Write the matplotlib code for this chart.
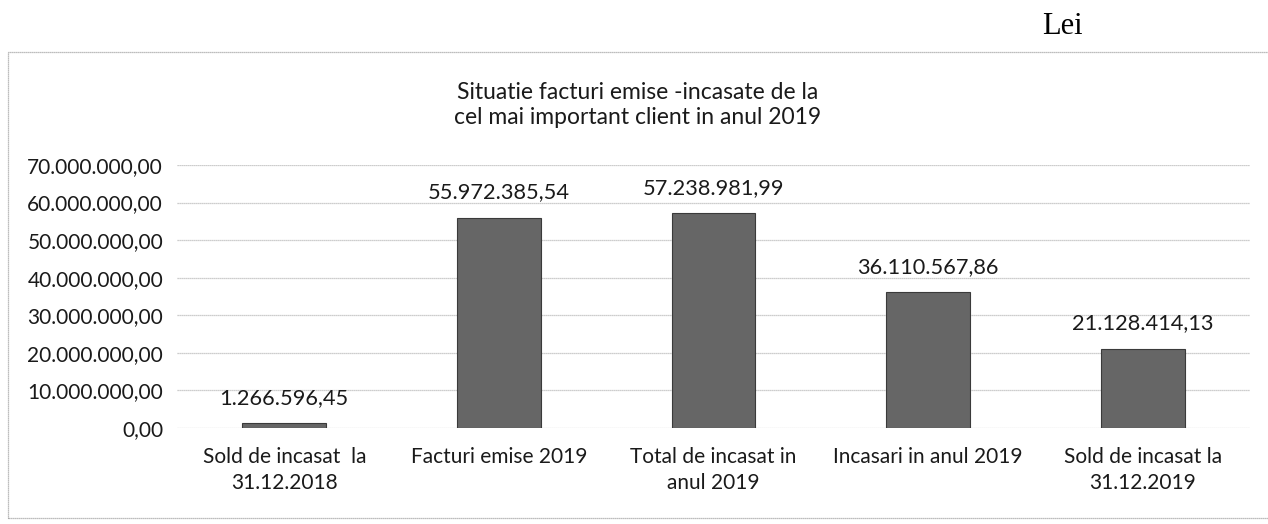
import matplotlib
matplotlib.use("Agg")
import matplotlib.pyplot as plt
from matplotlib.patches import Rectangle

categories = ["Sold de incasat  la\n31.12.2018", "Facturi emise 2019",
              "Total de incasat in\nanul 2019", "Incasari in anul 2019",
              "Sold de incasat la\n31.12.2019"]
values = [1266596.45, 55972385.54, 57238981.99, 36110567.86, 21128414.13]
yticks = [0, 10e6, 20e6, 30e6, 40e6, 50e6, 60e6, 70e6]
title = "Situatie facturi emise -incasate de la\ncel mai important client in anul 2019"
unit = "Lei"

def ro(v):
    s = f"{v:,.2f}"
    return s.replace(",", "X").replace(".", ",").replace("X", ".")

plt.rcParams['font.family'] = ['Lato', 'DejaVu Sans']
W, H = 1268, 524
fig = plt.figure(figsize=(W/100, H/100), dpi=100)
fig.patch.set_facecolor('white')

ax = fig.add_axes([177/W, 1-428/H, (1250-177)/W, (428-165)/H])
x = list(range(len(categories)))
bars = ax.bar(x, values, width=0.39, color='#666666', edgecolor='#3a3a3a', linewidth=0.8, zorder=3)
ax.bar_label(bars, labels=[ro(v) for v in values], padding=11, fontsize=15.7, color='#1a1a1a')
ax.set_xlim(-0.5, len(categories)-0.5)
ax.set_ylim(0, 70e6)
ax.set_yticks(yticks)
ax.set_yticklabels([ro(t) for t in yticks], fontsize=15, color='#1a1a1a')
ax.set_xticks(x)
ax.set_xticklabels(categories, fontsize=15, color='#1a1a1a', linespacing=1.35)
ax.tick_params(axis='both', length=0)
ax.tick_params(axis='y', pad=10)
ax.tick_params(axis='x', pad=14)
ax.grid(axis='y', color='#bdbdbd', linewidth=0.9, linestyle=(0, (1, 0.6)), zorder=0)
for s in ax.spines.values():
    s.set_visible(False)

fig.patches.append(Rectangle((8/W, 1-518/H), 1.0, (518-52)/H, transform=fig.transFigure,
                             fill=False, edgecolor='#a8a8a8', linewidth=0.9, linestyle=(0, (1, 0.6))))
fig.text(638/W, 1-105/H, title, ha='center', va='center', fontsize=16.5, color='#1a1a1a', linespacing=1.2)
fig.text(1062/W, 1-26/H, unit, ha='center', va='center', fontsize=22, family='Liberation Serif', color='black')

fig.savefig("out.png", dpi=100)
